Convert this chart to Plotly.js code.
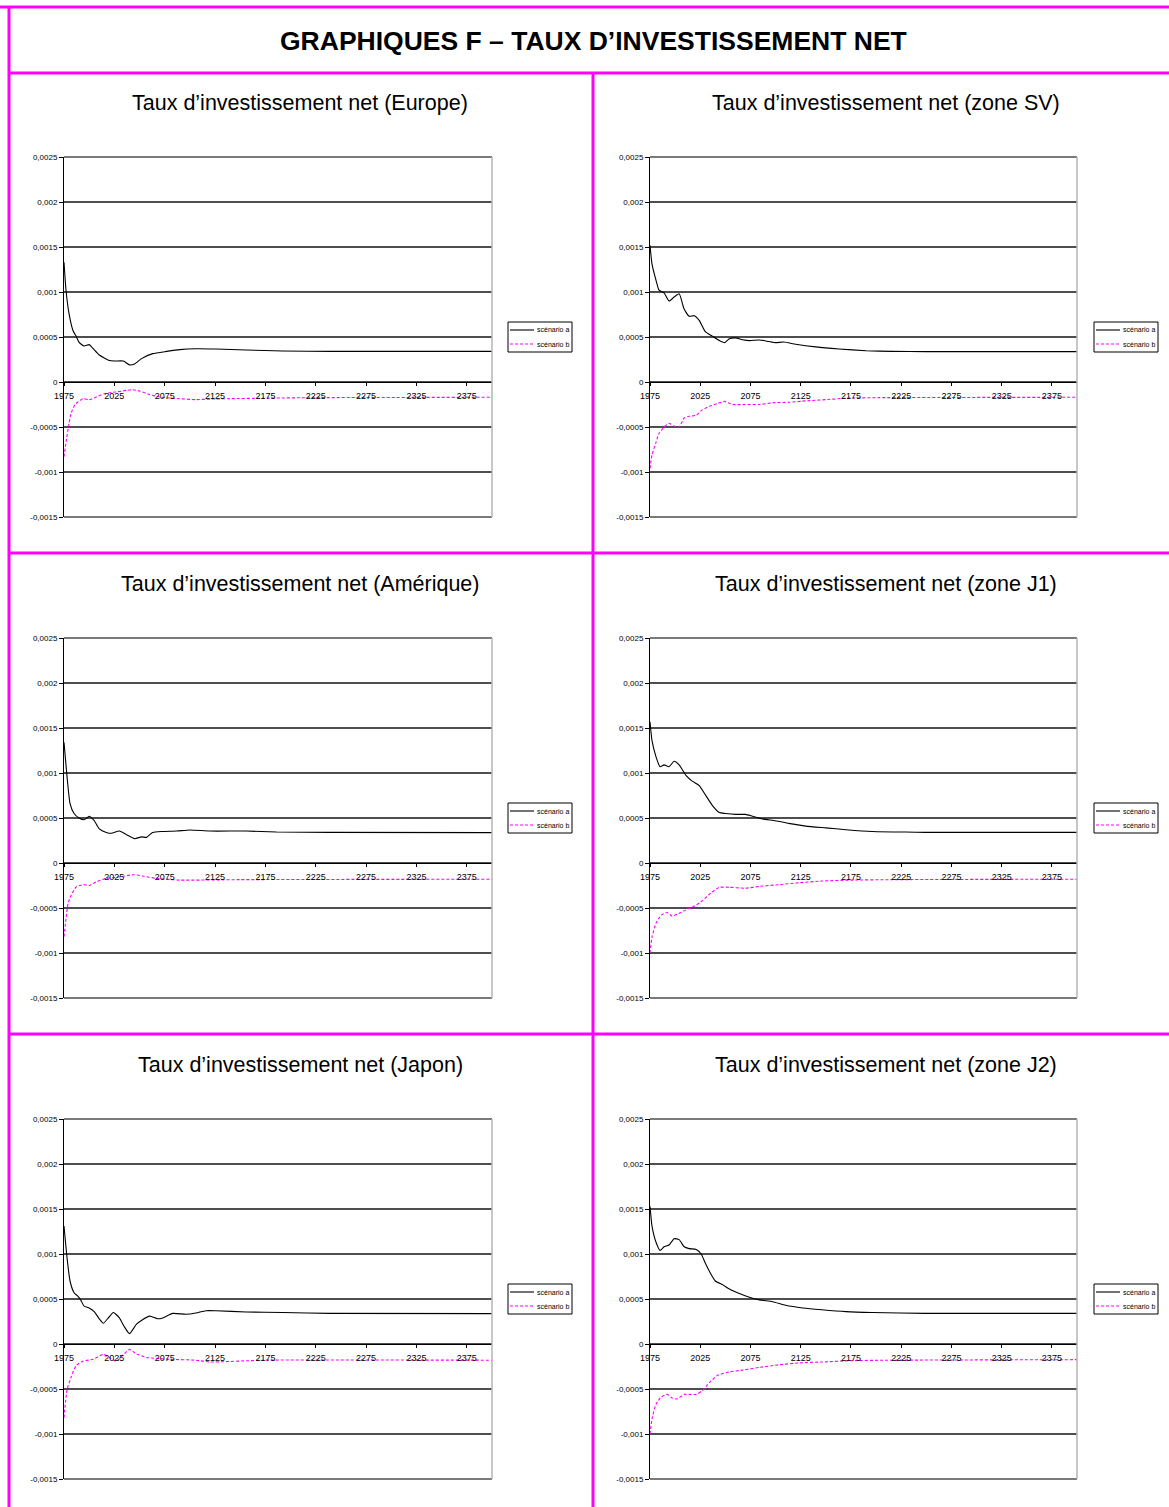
<!DOCTYPE html>
<html>
<head>
<meta charset="utf-8">
<script src="https://cdn.plot.ly/plotly-3.0.1.min.js"></script>
<style>
  html, body { margin: 0; padding: 0; background: #ffffff; overflow: hidden; }
  #chart { width: 1169px; height: 1507px; }
</style>
</head>
<body>
<div id="chart"></div>
<script>
// ---------------- DATA ----------------
const pageTitle = "GRAPHIQUES F – TAUX D’INVESTISSEMENT NET";
const panelTitles = [
  "Taux d’investissement net (Europe)",
  "Taux d’investissement net (zone SV)",
  "Taux d’investissement net (Amérique)",
  "Taux d’investissement net (zone J1)",
  "Taux d’investissement net (Japon)",
  "Taux d’investissement net (zone J2)"
];
const seriesNames = ["scénario a", "scénario b"];

const yTickVals = [-0.0015, -0.001, -0.0005, 0, 0.0005, 0.001, 0.0015, 0.002, 0.0025];
const yTickText = ["-0,0015", "-0,001", "-0,0005", "0", "0,0005", "0,001", "0,0015", "0,002", "0,0025"];
const xTickVals = [1975, 2025, 2075, 2125, 2175, 2225, 2275, 2325, 2375];
const xTickText = ["1975", "2025", "2075", "2125", "2175", "2225", "2275", "2325", "2375"];

// Europe
const europeYearsA = [1975,1977,1980,1984,1987,1990,1995,2000,2004,2010,2020,2025,2034,2040,2045,2052,2063,2077,2090,2106,2126,2156,2192,2239,2400];
const europeA = [0.00133,0.00102,0.00076,0.00057,0.00051,0.00044,0.0004,0.000415,0.00037,0.0003,0.00024,0.000233,0.000233,0.00019,0.0002,0.00026,0.000315,0.00034,0.00036,0.00037,0.000367,0.000356,0.000344,0.00034,0.00034];
const europeYearsB = [1975,1977,1980,1982,1986,1994,2000,2007,2015,2027,2037,2043,2050,2060,2070,2083,2106,2120,2140,2173,2222,2400];
const europeB = [-0.00083,-0.00067,-0.00046,-0.00035,-0.00025,-0.000185,-0.000196,-0.000167,-0.00013,-0.00011,-0.000093,-0.000085,-0.0001,-0.00014,-0.000167,-0.00018,-0.000196,-0.00019,-0.000185,-0.00018,-0.000174,-0.00017];

// Zone SV
const svYearsA = [1975,1977,1981,1984,1989,1994,1999,2004,2009,2014,2019,2024,2030,2037,2044,2049,2054,2060,2067,2074,2084,2093,2100,2108,2120,2140,2163,2190,2216,2249,2400];
const svA = [0.00152,0.00131,0.00113,0.00102,0.00099,0.0009,0.000944,0.00098,0.00081,0.00073,0.000737,0.000685,0.00056,0.00051,0.00046,0.000437,0.00048,0.00049,0.00047,0.00046,0.000467,0.00045,0.000437,0.000444,0.00042,0.00039,0.000367,0.000348,0.00034,0.000337,0.000337];
const svYearsB = [1975,1977,1981,1984,1989,1994,1999,2004,2009,2014,2021,2027,2034,2042,2049,2057,2070,2084,2097,2113,2130,2150,2170,2203,2400];
const svB = [-0.00096,-0.00081,-0.00067,-0.00057,-0.0005,-0.00046,-0.00049,-0.0005,-0.0004,-0.00038,-0.00037,-0.00031,-0.00027,-0.00024,-0.000215,-0.00025,-0.00025,-0.00025,-0.00023,-0.000226,-0.00021,-0.000196,-0.00018,-0.000174,-0.00017];

// Amérique
const ameriqueYearsA = [1975,1978,1981,1985,1990,1995,2000,2005,2010,2017,2022,2030,2037,2045,2052,2057,2063,2073,2087,2100,2120,2156,2186,2239,2400];
const ameriqueA = [0.00134,0.00096,0.00066,0.00055,0.0005,0.00048,0.00052,0.00047,0.00038,0.00034,0.00033,0.000355,0.000315,0.00027,0.00029,0.000285,0.00034,0.00035,0.000355,0.000367,0.000355,0.000355,0.000344,0.00034,0.000337];
const ameriqueYearsB = [1975,1977,1979,1982,1987,1994,2000,2007,2017,2027,2044,2053,2066,2090,2150,2400];
const ameriqueB = [-0.00082,-0.00062,-0.00045,-0.00036,-0.000267,-0.00024,-0.00025,-0.00021,-0.00017,-0.00016,-0.00013,-0.000144,-0.00017,-0.00019,-0.000185,-0.00018];

// Zone J1
const j1YearsA = [1975,1977,1981,1985,1989,1994,1999,2004,2011,2017,2024,2030,2037,2044,2050,2060,2070,2077,2087,2100,2113,2130,2150,2170,2196,2229,2249,2400];
const j1A = [0.00157,0.00136,0.00118,0.00107,0.00109,0.00107,0.00113,0.00109,0.00097,0.00091,0.00086,0.00076,0.00064,0.00056,0.00055,0.00054,0.00054,0.00052,0.00049,0.00047,0.00044,0.00041,0.00039,0.00037,0.00035,0.000344,0.00034,0.00034];
const j1YearsB = [1975,1977,1981,1986,1992,1997,2002,2011,2019,2027,2036,2044,2054,2070,2084,2104,2123,2146,2176,2216,2400];
const j1B = [-0.001,-0.00082,-0.00067,-0.00058,-0.00055,-0.00059,-0.00057,-0.00052,-0.00048,-0.00042,-0.00033,-0.00027,-0.00027,-0.00028,-0.00026,-0.00024,-0.00022,-0.0002,-0.00019,-0.000185,-0.00018];

// Japon
const japonYearsA = [1975,1978,1981,1985,1989,1992,1995,2000,2005,2010,2014,2019,2024,2030,2035,2040,2047,2053,2060,2068,2073,2083,2096,2106,2116,2126,2156,2192,2239,2400];
const japonA = [0.00131,0.00096,0.0007,0.00057,0.00053,0.00048,0.00042,0.0004,0.00036,0.00028,0.00023,0.00029,0.00035,0.00029,0.00019,0.000115,0.00022,0.00027,0.00031,0.00028,0.00029,0.00034,0.00033,0.000344,0.00037,0.00037,0.000356,0.00035,0.00034,0.000337];
const japonYearsB = [1975,1978,1982,1987,1994,2004,2014,2020,2027,2033,2040,2047,2057,2067,2080,2106,2120,2173,2400];
const japonB = [-0.00082,-0.00051,-0.00037,-0.00024,-0.00019,-0.00017,-0.000115,-0.00015,-0.00019,-0.00013,-0.00006,-0.00011,-0.00015,-0.00016,-0.00017,-0.00018,-0.0002,-0.00018,-0.00018];

// Zone J2
const j2YearsA = [1975,1977,1981,1985,1989,1994,1999,2004,2009,2014,2021,2026,2030,2035,2040,2047,2054,2064,2074,2084,2097,2110,2127,2146,2170,2196,2249,2400];
const j2A = [0.00153,0.00131,0.00113,0.00104,0.00108,0.0011,0.00117,0.00116,0.00108,0.00106,0.00105,0.001,0.0009,0.00079,0.0007,0.00066,0.00061,0.00056,0.00052,0.00049,0.00047,0.00043,0.0004,0.00038,0.00036,0.00035,0.00034,0.00034];
const j2YearsB = [1975,1977,1981,1986,1992,1997,2002,2009,2021,2027,2034,2042,2054,2067,2084,2104,2123,2146,2176,2216,2400];
const j2B = [-0.001,-0.00083,-0.00067,-0.00059,-0.00056,-0.0006,-0.00061,-0.00056,-0.00056,-0.00052,-0.00043,-0.00035,-0.00031,-0.00029,-0.00026,-0.00023,-0.00021,-0.0002,-0.000185,-0.00018,-0.000174];

const panels = [
  {ya: europeYearsA, a: europeA, yb: europeYearsB, b: europeB},
  {ya: svYearsA, a: svA, yb: svYearsB, b: svB},
  {ya: ameriqueYearsA, a: ameriqueA, yb: ameriqueYearsB, b: ameriqueB},
  {ya: j1YearsA, a: j1A, yb: j1YearsB, b: j1B},
  {ya: japonYearsA, a: japonA, yb: japonYearsB, b: japonB},
  {ya: j2YearsA, a: j2A, yb: j2YearsB, b: j2B}
];

// ---------------- LAYOUT ----------------
const W = 1169, H = 1507;
const px = v => v / W;
const py = v => 1 - v / H;
const MAG = "#ff00ff";
const FONT = "Arial, 'Liberation Sans', sans-serif";
const GRID = "#4e4e4e";

const colX = [[64, 492], [650, 1077]];
const rowTop = [157, 638, 1119];
const rowH = 360;
const cellTitleY = [103, 584, 1065];
const cellCenterX = [300, 886];
const legendX = [508, 1094];
const legendTop = [322, 803, 1284];

const traces = [];
const layout = {
  width: W, height: H,
  margin: {l: 0, r: 0, t: 0, b: 0},
  paper_bgcolor: "#ffffff",
  plot_bgcolor: "#ffffff",
  font: {family: FONT, color: "#000000"},
  showlegend: false,
  shapes: [],
  annotations: []
};

panels.forEach((p, i) => {
  const r = Math.floor(i / 2), c = i % 2;
  const n = i + 1;
  const xa = "x" + (n === 1 ? "" : n), yaN = "y" + (n === 1 ? "" : n);
  const xKey = "xaxis" + (n === 1 ? "" : n), yKey = "yaxis" + (n === 1 ? "" : n);
  const top = rowTop[r], bot = rowTop[r] + rowH;
  const zeroPx = top + rowH * 0.0025 / 0.004;

  traces.push({
    x: p.ya, y: p.a, xaxis: xa, yaxis: yaN, type: "scatter", mode: "lines",
    name: seriesNames[0],
    line: {color: "#000000", width: 1.1, shape: "spline", smoothing: 0.5},
    hoverinfo: "skip"
  });
  traces.push({
    x: p.yb, y: p.b, xaxis: xa, yaxis: yaN, type: "scatter", mode: "lines",
    name: seriesNames[1],
    line: {color: MAG, width: 1.1, dash: "3px,2px", shape: "spline", smoothing: 0.5},
    hoverinfo: "skip"
  });

  layout[xKey] = {
    domain: [px(colX[c][0]), px(colX[c][1])],
    range: [1975, 2400],
    anchor: "free",
    position: py(zeroPx),
    showgrid: false,
    zeroline: false,
    showline: true, linecolor: "#000000", linewidth: 1,
    ticks: "outside", ticklen: 3, tickcolor: "#000000", tickwidth: 1,
    ticklabelstandoff: 2,
    tickvals: xTickVals, ticktext: xTickText,
    tickfont: {size: 9, family: FONT, color: "#000000"},
    fixedrange: true
  };
  layout[yKey] = {
    domain: [py(bot), py(top)],
    range: [-0.0015, 0.0025],
    anchor: xa,
    showgrid: true, gridcolor: GRID, gridwidth: 1.3,
    zeroline: false,
    showline: true, linecolor: "#000000", linewidth: 1,
    ticks: "outside", ticklen: 4, tickcolor: "#000000",
    tickvals: yTickVals, ticktext: yTickText,
    tickfont: {size: 8, family: FONT, color: "#000000"},
    fixedrange: true
  };

  // plot-area frame: top and bottom gridlines, light gray right edge
  layout.shapes.push({
    type: "line", xref: xa + " domain", yref: yaN + " domain",
    x0: 0, x1: 1, y0: 1, y1: 1, line: {color: GRID, width: 1.3}
  });
  layout.shapes.push({
    type: "line", xref: xa + " domain", yref: yaN + " domain",
    x0: 0, x1: 1, y0: 0, y1: 0, line: {color: GRID, width: 1.3}
  });
  layout.shapes.push({
    type: "line", xref: xa + " domain", yref: yaN + " domain",
    x0: 1, x1: 1, y0: 0, y1: 1,
    line: {color: "#b4b4b4", width: 1.5}
  });

  // legend box (drawn in paper space)
  const lx = legendX[c], lt = legendTop[r];
  layout.shapes.push({
    type: "rect", xref: "paper", yref: "paper",
    x0: px(lx), x1: px(lx + 64), y0: py(lt), y1: py(lt + 30),
    line: {color: "#000000", width: 1}, fillcolor: "#ffffff"
  });
  layout.shapes.push({
    type: "line", xref: "paper", yref: "paper",
    x0: px(lx + 2), x1: px(lx + 26), y0: py(lt + 8), y1: py(lt + 8),
    line: {color: "#000000", width: 1.1}
  });
  layout.shapes.push({
    type: "line", xref: "paper", yref: "paper",
    x0: px(lx + 2), x1: px(lx + 26), y0: py(lt + 22), y1: py(lt + 22),
    line: {color: MAG, width: 1.1, dash: "3px,2px"}
  });
  seriesNames.forEach((nm, k) => {
    layout.annotations.push({
      text: nm, xref: "paper", yref: "paper",
      x: px(lx + 27), y: py(lt + 8 + 14 * k),
      xanchor: "left", yanchor: "middle", showarrow: false,
      font: {size: 7, family: FONT, color: "#000000"}
    });
  });

  layout.annotations.push({
    text: panelTitles[i], xref: "paper", yref: "paper",
    x: px(cellCenterX[c]), y: py(cellTitleY[r]),
    xanchor: "center", yanchor: "middle", showarrow: false,
    font: {size: 21.5, family: FONT, color: "#000000"}
  });
});

// main title
layout.annotations.push({
  text: "<b>" + pageTitle + "</b>", xref: "paper", yref: "paper",
  x: px(593), y: py(41), xanchor: "center", yanchor: "middle", showarrow: false,
  font: {size: 26.5, family: FONT, color: "#000000"}
});

// magenta table borders
const border = (x0, y0, x1, y1) => ({
  type: "line", xref: "paper", yref: "paper",
  x0: px(x0), y0: py(y0), x1: px(x1), y1: py(y1),
  line: {color: MAG, width: 3}
});
layout.shapes.push(border(0, 7, 1169, 7));
layout.shapes.push(border(9, 7, 9, 1507));
layout.shapes.push(border(9, 73, 1169, 73));
layout.shapes.push(border(9, 553, 1169, 553));
layout.shapes.push(border(9, 1034, 1169, 1034));
layout.shapes.push(border(593, 73, 593, 1507));

Plotly.newPlot("chart", traces, layout, {displayModeBar: false, staticPlot: true});
</script>
</body>
</html>
